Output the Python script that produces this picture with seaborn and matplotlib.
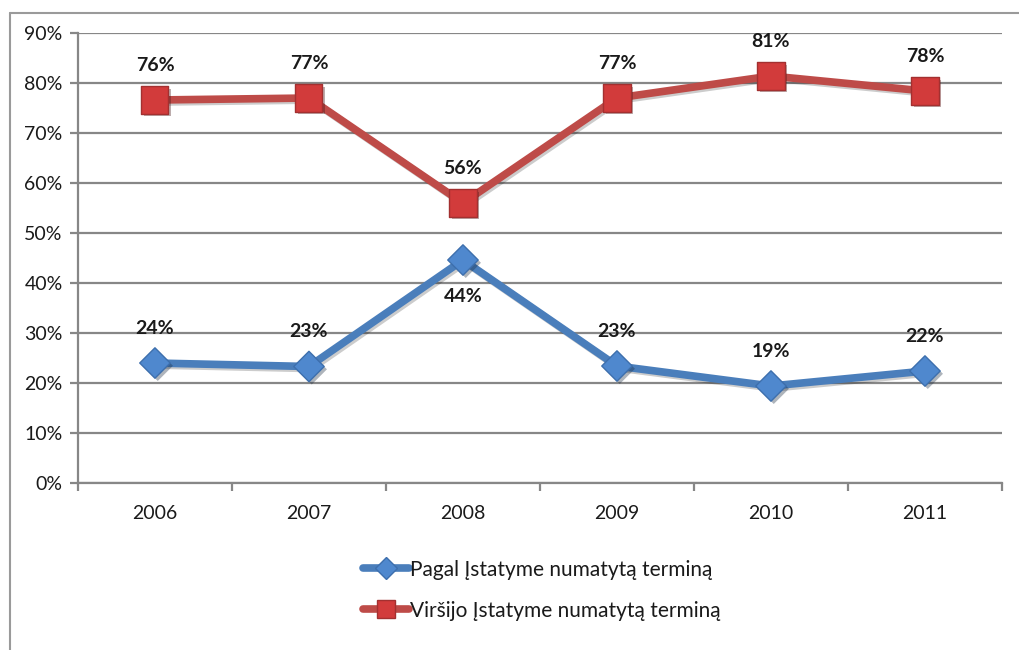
import numpy as np
import pandas as pd
import matplotlib
matplotlib.use('Agg')
import matplotlib.pyplot as plt
import matplotlib.patheffects as pe
from matplotlib.lines import Line2D
import seaborn as sns

# duomenys
years = ['2006', '2007', '2008', '2009', '2010', '2011']
series_names = ['Pagal Įstatyme numatytą terminą', 'Viršijo Įstatyme numatytą terminą']
pagal = [24.0, 23.3, 44.6, 23.4, 19.4, 22.4]
virsijo = [76.6, 77.0, 56.0, 77.0, 81.4, 78.4]
pagal_labels = ['24%', '23%', '44%', '23%', '19%', '22%']
virsijo_labels = ['76%', '77%', '56%', '77%', '81%', '78%']

df = pd.DataFrame({
    'pos': list(range(len(years))) * 2,
    'value': pagal + virsijo,
    'series': [series_names[0]] * len(years) + [series_names[1]] * len(years),
})

sns.set_style('white')
plt.rcParams['font.family'] = ['Lato', 'DejaVu Sans']

fig = plt.figure(figsize=(10.19, 6.5), dpi=100)
ax = fig.add_axes([0.0765, 0.2569, 0.9068, 0.6923])

blue, red = '#4A7EBB', '#BE4B48'
palette = {series_names[0]: blue, series_names[1]: red}

# linijos
sns.lineplot(data=df, x='pos', y='value', hue='series', palette=palette,
             linewidth=5.5, ax=ax, legend=False)
for line in ax.get_lines():
    line.set_solid_capstyle('butt')
    line.set_path_effects([pe.SimpleLineShadow(offset=(1.5, -1.5), alpha=0.2), pe.Normal()])

# žymekliai
shadow = [pe.SimplePatchShadow(offset=(2, -2), alpha=0.35), pe.Normal()]
sub = df[df['series'] == series_names[0]]
sns.scatterplot(data=sub, x='pos', y='value', marker='D', s=240, color='#4F88CE',
                edgecolor='#3D6FAD', linewidth=1, ax=ax, legend=False, zorder=3)
sub = df[df['series'] == series_names[1]]
sns.scatterplot(data=sub, x='pos', y='value', marker='s', s=380, color='#D23B3B',
                edgecolor='#A33030', linewidth=1, ax=ax, legend=False, zorder=3)
for coll in ax.collections:
    coll.set_path_effects(shadow)

# etiketės
for i, (v, t) in enumerate(zip(virsijo, virsijo_labels)):
    ax.annotate(t, (i, v), xytext=(0, 25), textcoords='offset points',
                ha='center', va='center', fontsize=14, fontweight='bold', color='#1a1a1a')
for i, (v, t) in enumerate(zip(pagal, pagal_labels)):
    dy = -26 if i == 2 else 25
    ax.annotate(t, (i, v), xytext=(0, dy), textcoords='offset points',
                ha='center', va='center', fontsize=14, fontweight='bold', color='#1a1a1a')

ax.set_xlim(-0.5, 5.5)
ax.set_ylim(0, 90)
ax.set_yticks(np.arange(0, 91, 10))
ax.set_yticklabels([f'{t}%' for t in range(0, 91, 10)])
ax.set_xticks(range(len(years)))
ax.set_xticklabels(years)
ax.set_xticks(np.arange(-0.5, 5.6, 1), minor=True)
ax.set_xlabel('')
ax.set_ylabel('')

ax.yaxis.grid(True, color='#878787', linewidth=1.6)
ax.set_axisbelow(True)
for side in ['top', 'right']:
    ax.spines[side].set_visible(False)
for side in ['left', 'bottom']:
    ax.spines[side].set_color('#878787')
    ax.spines[side].set_linewidth(1.6)

ax.tick_params(axis='y', direction='out', length=6, width=1.6, color='#878787',
               labelsize=14, labelcolor='#1a1a1a', pad=5, left=True)
ax.tick_params(axis='x', which='major', length=0, labelsize=14, labelcolor='#1a1a1a', pad=16)
ax.tick_params(axis='x', which='minor', direction='out', length=6, width=1.6, color='#878787', bottom=True)

# legenda
handles = [
    Line2D([], [], color=blue, linewidth=5.5, marker='D', markersize=11,
           markerfacecolor='#4F88CE', markeredgecolor='#3D6FAD'),
    Line2D([], [], color=red, linewidth=5.5, marker='s', markersize=13,
           markerfacecolor='#D23B3B', markeredgecolor='#A33030'),
]
fig.legend(handles, series_names, loc='center', bbox_to_anchor=(0.532, 0.092),
           frameon=False, fontsize=15, handlelength=2.2, handletextpad=0.05,
           labelspacing=1.0, labelcolor='#1a1a1a')

# rėmelis
fig.add_artist(Line2D([0.0098, 0.0098], [0, 0.98], color='#9a9a9a', linewidth=1.5, transform=fig.transFigure))
fig.add_artist(Line2D([0.0098, 1.0], [0.98, 0.98], color='#9a9a9a', linewidth=1.5, transform=fig.transFigure))

fig.savefig('out.png', dpi=100)
